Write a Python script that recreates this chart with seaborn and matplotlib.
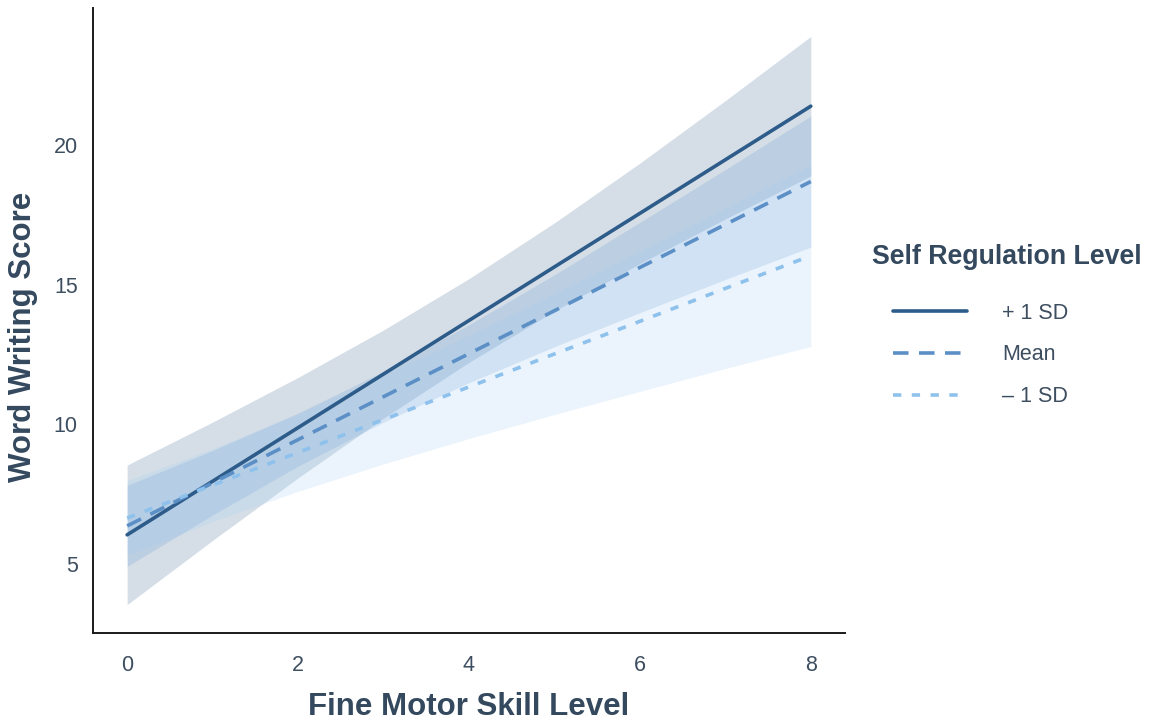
import numpy as np
import pandas as pd
import seaborn as sns
import matplotlib
matplotlib.use("Agg")
import matplotlib.pyplot as plt

# Fine motor skill levels at which the model was evaluated
fine_motor = [0, 1, 2, 3, 4, 5, 6, 7, 8]

# Predicted word writing scores for each self regulation level
levels = ["+ 1 SD", "Mean", "\u2013 1 SD"]
pred_plus = [6.04, 7.96, 9.88, 11.80, 13.72, 15.64, 17.56, 19.48, 21.40]
pred_mean = [6.36, 7.90, 9.45, 10.99, 12.53, 14.07, 15.62, 17.16, 18.70]
pred_minus = [6.64, 7.82, 8.99, 10.17, 11.34, 12.52, 13.69, 14.87, 16.04]

# 95% confidence limits
lo_plus = [3.54, 5.84, 8.08, 10.22, 12.22, 14.06, 15.76, 17.36, 18.90]
hi_plus = [8.54, 10.08, 11.68, 13.38, 15.22, 17.22, 19.36, 21.60, 23.90]
lo_mean = [4.91, 6.75, 8.50, 10.08, 11.49, 12.78, 14.00, 15.19, 16.35]
hi_mean = [7.81, 9.06, 10.40, 11.90, 13.57, 15.36, 17.24, 19.13, 21.05]
lo_minus = [5.30, 6.52, 7.60, 8.58, 9.49, 10.35, 11.18, 12.00, 12.79]
hi_minus = [7.98, 9.12, 10.38, 11.76, 13.19, 14.69, 16.20, 17.74, 19.29]

x_ticks = [0, 2, 4, 6, 8]
y_ticks = [5, 10, 15, 20]

line_colors = {"+ 1 SD": "#2e5c8a", "Mean": "#5b8fc6", "\u2013 1 SD": "#8ec1ec"}
fill_colors = {"+ 1 SD": "#2f5b87", "Mean": "#5b93cf", "\u2013 1 SD": "#9ccaf3"}
dash_styles = {"+ 1 SD": "", "Mean": (4.3, 2.9), "\u2013 1 SD": (2.3, 2.9)}

df = pd.DataFrame({
    "Fine Motor Skill Level": fine_motor * 3,
    "Word Writing Score": pred_plus + pred_mean + pred_minus,
    "Self Regulation Level": [levels[0]] * 9 + [levels[1]] * 9 + [levels[2]] * 9,
})
bands = {
    levels[0]: (lo_plus, hi_plus),
    levels[1]: (lo_mean, hi_mean),
    levels[2]: (lo_minus, hi_minus),
}

sns.set_theme(style="white")
plt.rcParams["font.family"] = ["Liberation Sans", "DejaVu Sans"]
text_color = "#34495e"
tick_color = "#3d4e60"

fig = plt.figure(figsize=(11.52, 7.27), dpi=100)
ax = fig.add_axes([0.0807, 0.1293, 0.6528, 0.8597])

for lvl in levels:
    lo, hi = bands[lvl]
    ax.fill_between(fine_motor, lo, hi, color=fill_colors[lvl], alpha=0.2,
                    linewidth=0)

sns.lineplot(data=df, x="Fine Motor Skill Level", y="Word Writing Score",
             hue="Self Regulation Level", style="Self Regulation Level",
             hue_order=levels, style_order=levels, palette=line_colors,
             dashes=dash_styles, linewidth=2.6, errorbar=None, legend=False,
             ax=ax)

ax.set_xticks(x_ticks)
ax.set_yticks(y_ticks)
ax.tick_params(axis="both", length=0, labelsize=15.5, colors=tick_color)
ax.tick_params(axis="x", pad=15.5)
ax.tick_params(axis="y", pad=11)
ax.set_xlabel("Fine Motor Skill Level", fontsize=22.5, fontweight="bold",
              color=text_color, labelpad=12)
ax.set_ylabel("Word Writing Score", fontsize=22.5, fontweight="bold",
              color=text_color)
ax.yaxis.set_label_coords(-0.073, 0.474)

for side in ["top", "right"]:
    ax.spines[side].set_visible(False)
for side in ["left", "bottom"]:
    ax.spines[side].set_color("#1a1a1a")
    ax.spines[side].set_linewidth(1.4)

handles = ax.lines[:3]
leg = fig.legend(handles, levels, title="Self Regulation Level",
                 loc="upper left", bbox_to_anchor=(872 / 1152, 1 - 244 / 727),
                 frameon=False, fontsize=15.5, title_fontsize=19.3,
                 handlelength=3.46, handletextpad=1.6, labelspacing=0.96,
                 borderpad=0, borderaxespad=0, alignment="left")
leg.get_title().set_fontweight("bold")
leg.get_title().set_color(text_color)
for t in leg.get_texts():
    t.set_color(tick_color)
# indent the entries under the title
leg._legend_handle_box.pad = 15.1
leg._legend_box.sep = 8.5

fig.savefig("out.png", dpi=100)
